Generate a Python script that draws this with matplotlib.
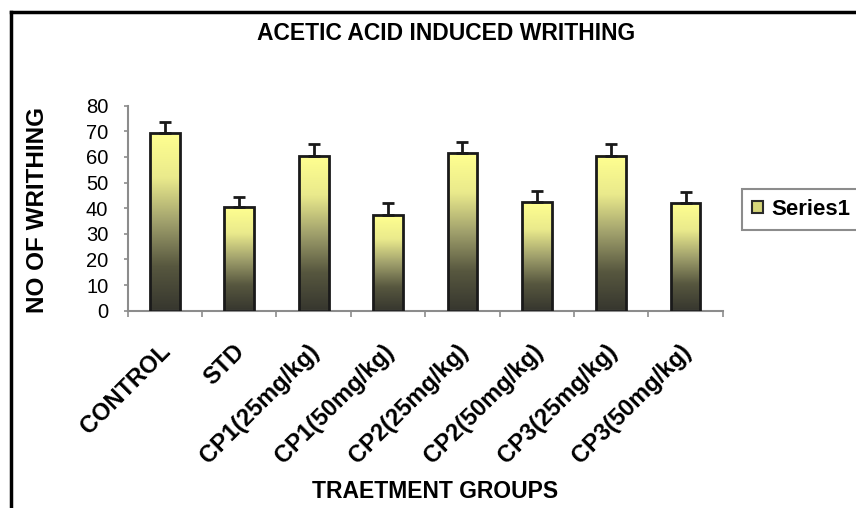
import numpy as np
import matplotlib
matplotlib.use('Agg')
import matplotlib.pyplot as plt
from matplotlib.colors import LinearSegmentedColormap
from matplotlib.patches import Patch
from matplotlib.lines import Line2D

plt.rcParams['font.family'] = ['Liberation Sans', 'DejaVu Sans']

# donnees
groups = ['CONTROL', 'STD', 'CP1(25mg/kg)', 'CP1(50mg/kg)',
          'CP2(25mg/kg)', 'CP2(50mg/kg)', 'CP3(25mg/kg)', 'CP3(50mg/kg)']
means = [69.2, 40.3, 60.4, 37.3, 61.4, 42.5, 60.5, 41.9]
sem = [4.3, 4.2, 4.5, 4.8, 4.6, 4.3, 4.4, 4.4]

W, H = 856, 508
fig = plt.figure(figsize=(W/100, H/100), dpi=100)
ax = fig.add_axes([127.7/W, 1-310.7/H, 595/W, 205/H])

# degrade jaune -> sombre
cmap = LinearSegmentedColormap.from_list('xl', [
    (0.0, '#36362e'), (0.25, '#57573f'), (0.5, '#a0a06c'),
    (0.75, '#eaea8c'), (1.0, '#ffff90')])
grad = np.linspace(0, 1, 256).reshape(-1, 1)

x = np.arange(len(groups))
bw = 0.4
for xi, m in zip(x, means):
    ax.imshow(grad, cmap=cmap, origin='lower', aspect='auto',
              extent=[xi-bw/2, xi+bw/2, 0, m], zorder=2)
ax.bar(x, means, width=bw, fill=False, edgecolor='#1a1a1a', linewidth=2, zorder=3)
ax.errorbar(x, means, yerr=[np.zeros(len(sem)), sem], fmt='none',
            ecolor='#1a1a1a', elinewidth=2, capsize=4.5, capthick=2, zorder=4)

ax.set_xlim(-0.5, len(groups)-0.5)
ax.set_ylim(0, 80)
ax.set_yticks(range(0, 81, 10))

for s in ['top', 'right']:
    ax.spines[s].set_visible(False)
for s in ['left', 'bottom']:
    ax.spines[s].set_color('#8c8c8c')
    ax.spines[s].set_linewidth(1.5)

ax.tick_params(axis='y', colors='#8c8c8c', length=3, width=1.2, pad=11,
               labelsize=14.5, labelcolor='black')
ax.set_xticks(x + 0.14)
ax.set_xticklabels(groups, rotation=45, ha='right', fontsize=17, fontweight='bold')
ax.tick_params(axis='x', which='major', length=0, pad=21)
ax.set_xticks(np.arange(-0.5, len(groups), 1), minor=True)
ax.tick_params(axis='x', which='minor', colors='#8c8c8c', length=4, width=1.2)

fig.text(446/W, 1-34/H, 'ACETIC ACID INDUCED WRITHING', ha='center', va='center',
         fontsize=16.5, fontweight='bold')
fig.text(38/W, 1-210/H, 'NO OF WRITHING', ha='center', va='center', rotation=90,
         fontsize=17.5, fontweight='bold')
fig.text(435/W, 1-492/H, 'TRAETMENT GROUPS', ha='center', va='center',
         fontsize=16.5, fontweight='bold')

handle = Patch(facecolor='#d6d67a', edgecolor='#2a2a2a', linewidth=1.5)
leg = fig.legend([handle], ['Series1'], loc='center left',
                 bbox_to_anchor=(742/W, 1-209.5/H), fancybox=False,
                 prop={'size': 16, 'weight': 'bold'}, handlelength=0.5,
                 handleheight=0.5, handletextpad=0.35, borderpad=0.45,
                 borderaxespad=0, edgecolor='#8c8c8c', framealpha=1)
leg.get_frame().set_linewidth(1.5)

# cadre noir
fig.add_artist(Line2D([11/W, 11/W], [0, 1-12/H], color='black', lw=2.5))
fig.add_artist(Line2D([11/W, 1], [1-12/H, 1-12/H], color='black', lw=2.5))

plt.savefig('out.png', dpi=100)
